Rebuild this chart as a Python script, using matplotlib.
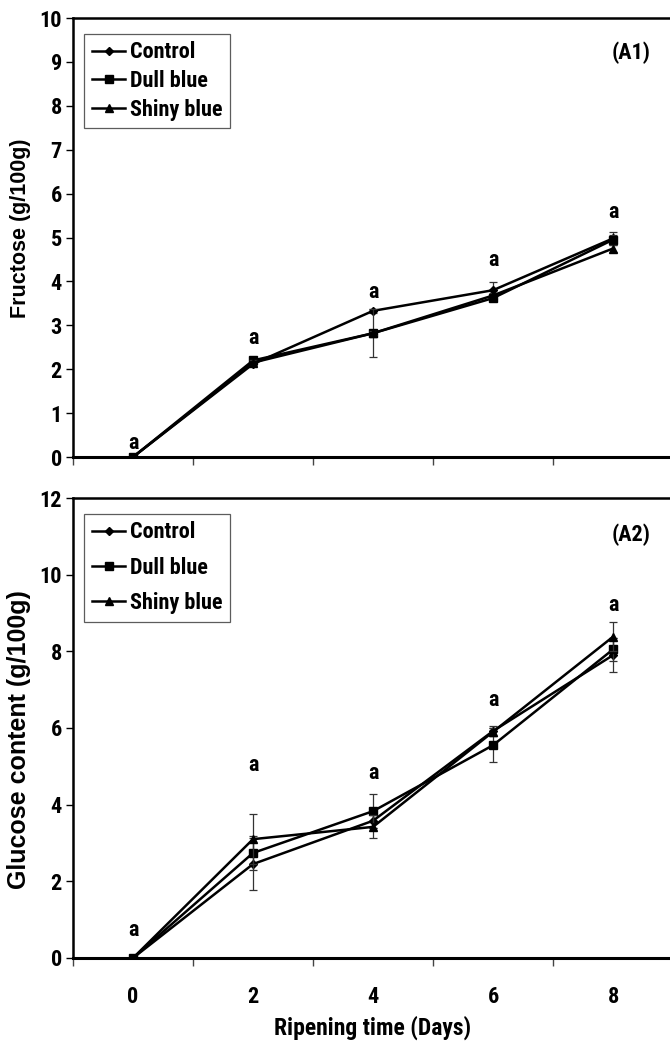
import numpy as np
import matplotlib.pyplot as plt
from matplotlib import font_manager

# pick a condensed bold face when one is available
names = {f.name for f in font_manager.fontManager.ttflist}
narrow = 'Liberation Sans'
for cand in ['Liberation Sans Narrow', 'Arial Narrow', 'Roboto Condensed', 'Open Sans Condensed']:
    if cand in names:
        narrow = cand
        break
plt.rcParams['font.family'] = [narrow, 'DejaVu Sans']
plt.rcParams['font.weight'] = 'bold'

days = ['0', '2', '4', '6', '8']
series = ['Control', 'Dull blue', 'Shiny blue']

# fructose (g/100g)
fru_control = [0, 2.12, 3.33, 3.80, 4.98]
fru_dull = [0, 2.20, 2.82, 3.62, 4.95]
fru_shiny = [0, 2.15, 2.82, 3.68, 4.75]
fru_control_err = [0, 0.05, 0.05, 0.18, 0.15]
fru_dull_err = [0, 0.05, 0.55, 0.05, 0.10]
fru_shiny_err = [0, 0.05, 0.05, 0.05, 0.08]
fru_letters = ['a', 'a', 'a', 'a', 'a']
fru_letter_y = [0.32, 2.71, 3.76, 4.49, 5.58]

# glucose content (g/100g)
glu_control = [0, 2.45, 3.58, 5.92, 7.90]
glu_dull = [0, 2.74, 3.83, 5.55, 8.05]
glu_shiny = [0, 3.10, 3.42, 5.90, 8.38]
glu_control_err = [0, 0.67, 0.20, 0.12, 0.45]
glu_dull_err = [0, 0.45, 0.45, 0.45, 0.30]
glu_shiny_err = [0, 0.66, 0.30, 0.10, 0.38]
glu_letters = ['a', 'a', 'a', 'a', 'a']
glu_letter_y = [0.73, 5.04, 4.83, 6.73, 9.20]

markers = ['D', 's', '^']
msizes = [4.5, 6, 6]

fig = plt.figure(figsize=(6.7, 10.48), dpi=100)
ax1 = fig.add_axes([0.109, 0.5639, 0.8955, 0.4189])
ax2 = fig.add_axes([0.109, 0.0859, 0.8955, 0.4389])


def draw(ax, vals, errs, letters, letter_y, ymax, step, ylabel, ylsize, ylpos,
         tag, tag_y, lspace):
    x = np.arange(len(days))
    for v, e, m, ms, name in zip(vals, errs, markers, msizes, series):
        ax.errorbar(x, v, yerr=e, fmt='none', ecolor='#333333', elinewidth=0.9,
                    capsize=3, capthick=0.9)
        ax.plot(x, v, color='black', lw=1.8, marker=m, ms=ms, label=name)
    for xi, t, ty in zip(x, letters, letter_y):
        ax.text(xi, ty, t, ha='center', va='center', fontsize=16, fontweight='bold')
    ax.text(4.15, tag_y, tag, ha='center', va='center', fontsize=16, fontweight='bold')
    ax.set_xlim(-0.5, 4.5)
    ax.set_ylim(0, ymax)
    ax.set_yticks(np.arange(0, ymax + 0.01, step))
    ax.set_xticks(x)
    ax.set_xticks(np.arange(-0.5, 4.6, 1), minor=True)
    ax.tick_params(axis='x', which='major', length=0, labelsize=16, pad=20)
    ax.tick_params(axis='x', which='minor', length=6, width=1, color='#444444', direction='out')
    ax.tick_params(axis='y', length=5, width=1, labelsize=16, direction='out', pad=3)
    ax.spines['left'].set_linewidth(1.8)
    ax.spines['bottom'].set_linewidth(2.2)
    ax.spines['top'].set_linewidth(1.8)
    ax.spines['right'].set_visible(False)
    ax.set_ylabel(ylabel, fontsize=ylsize, fontweight='bold', family='Liberation Sans')
    ax.yaxis.set_label_coords(-0.07, ylpos)
    leg = ax.legend(loc='upper left', prop={'size': 16, 'weight': 'bold'},
                    frameon=True, fancybox=False,
                    handlelength=1.5, handletextpad=0.2, borderpad=0.35,
                    labelspacing=lspace, bbox_to_anchor=(0.0, 0.99))
    leg.get_frame().set_edgecolor('#333333')
    leg.get_frame().set_linewidth(0.9)


draw(ax1, [fru_control, fru_dull, fru_shiny],
     [fru_control_err, fru_dull_err, fru_shiny_err],
     fru_letters, fru_letter_y, 10, 1, 'Fructose (g/100g)', 15.5, 0.52,
     '(A1)', 9.2, 0.3)
ax1.set_xticklabels([])

draw(ax2, [glu_control, glu_dull, glu_shiny],
     [glu_control_err, glu_dull_err, glu_shiny_err],
     glu_letters, glu_letter_y, 12, 2, 'Glucose content (g/100g)', 18, 0.475,
     '(A2)', 11.03, 0.6)
ax2.set_xticklabels(days)
ax2.set_xlabel('Ripening time (Days)', fontsize=17, fontweight='bold', labelpad=6)

fig.savefig('out.png', dpi=100)
